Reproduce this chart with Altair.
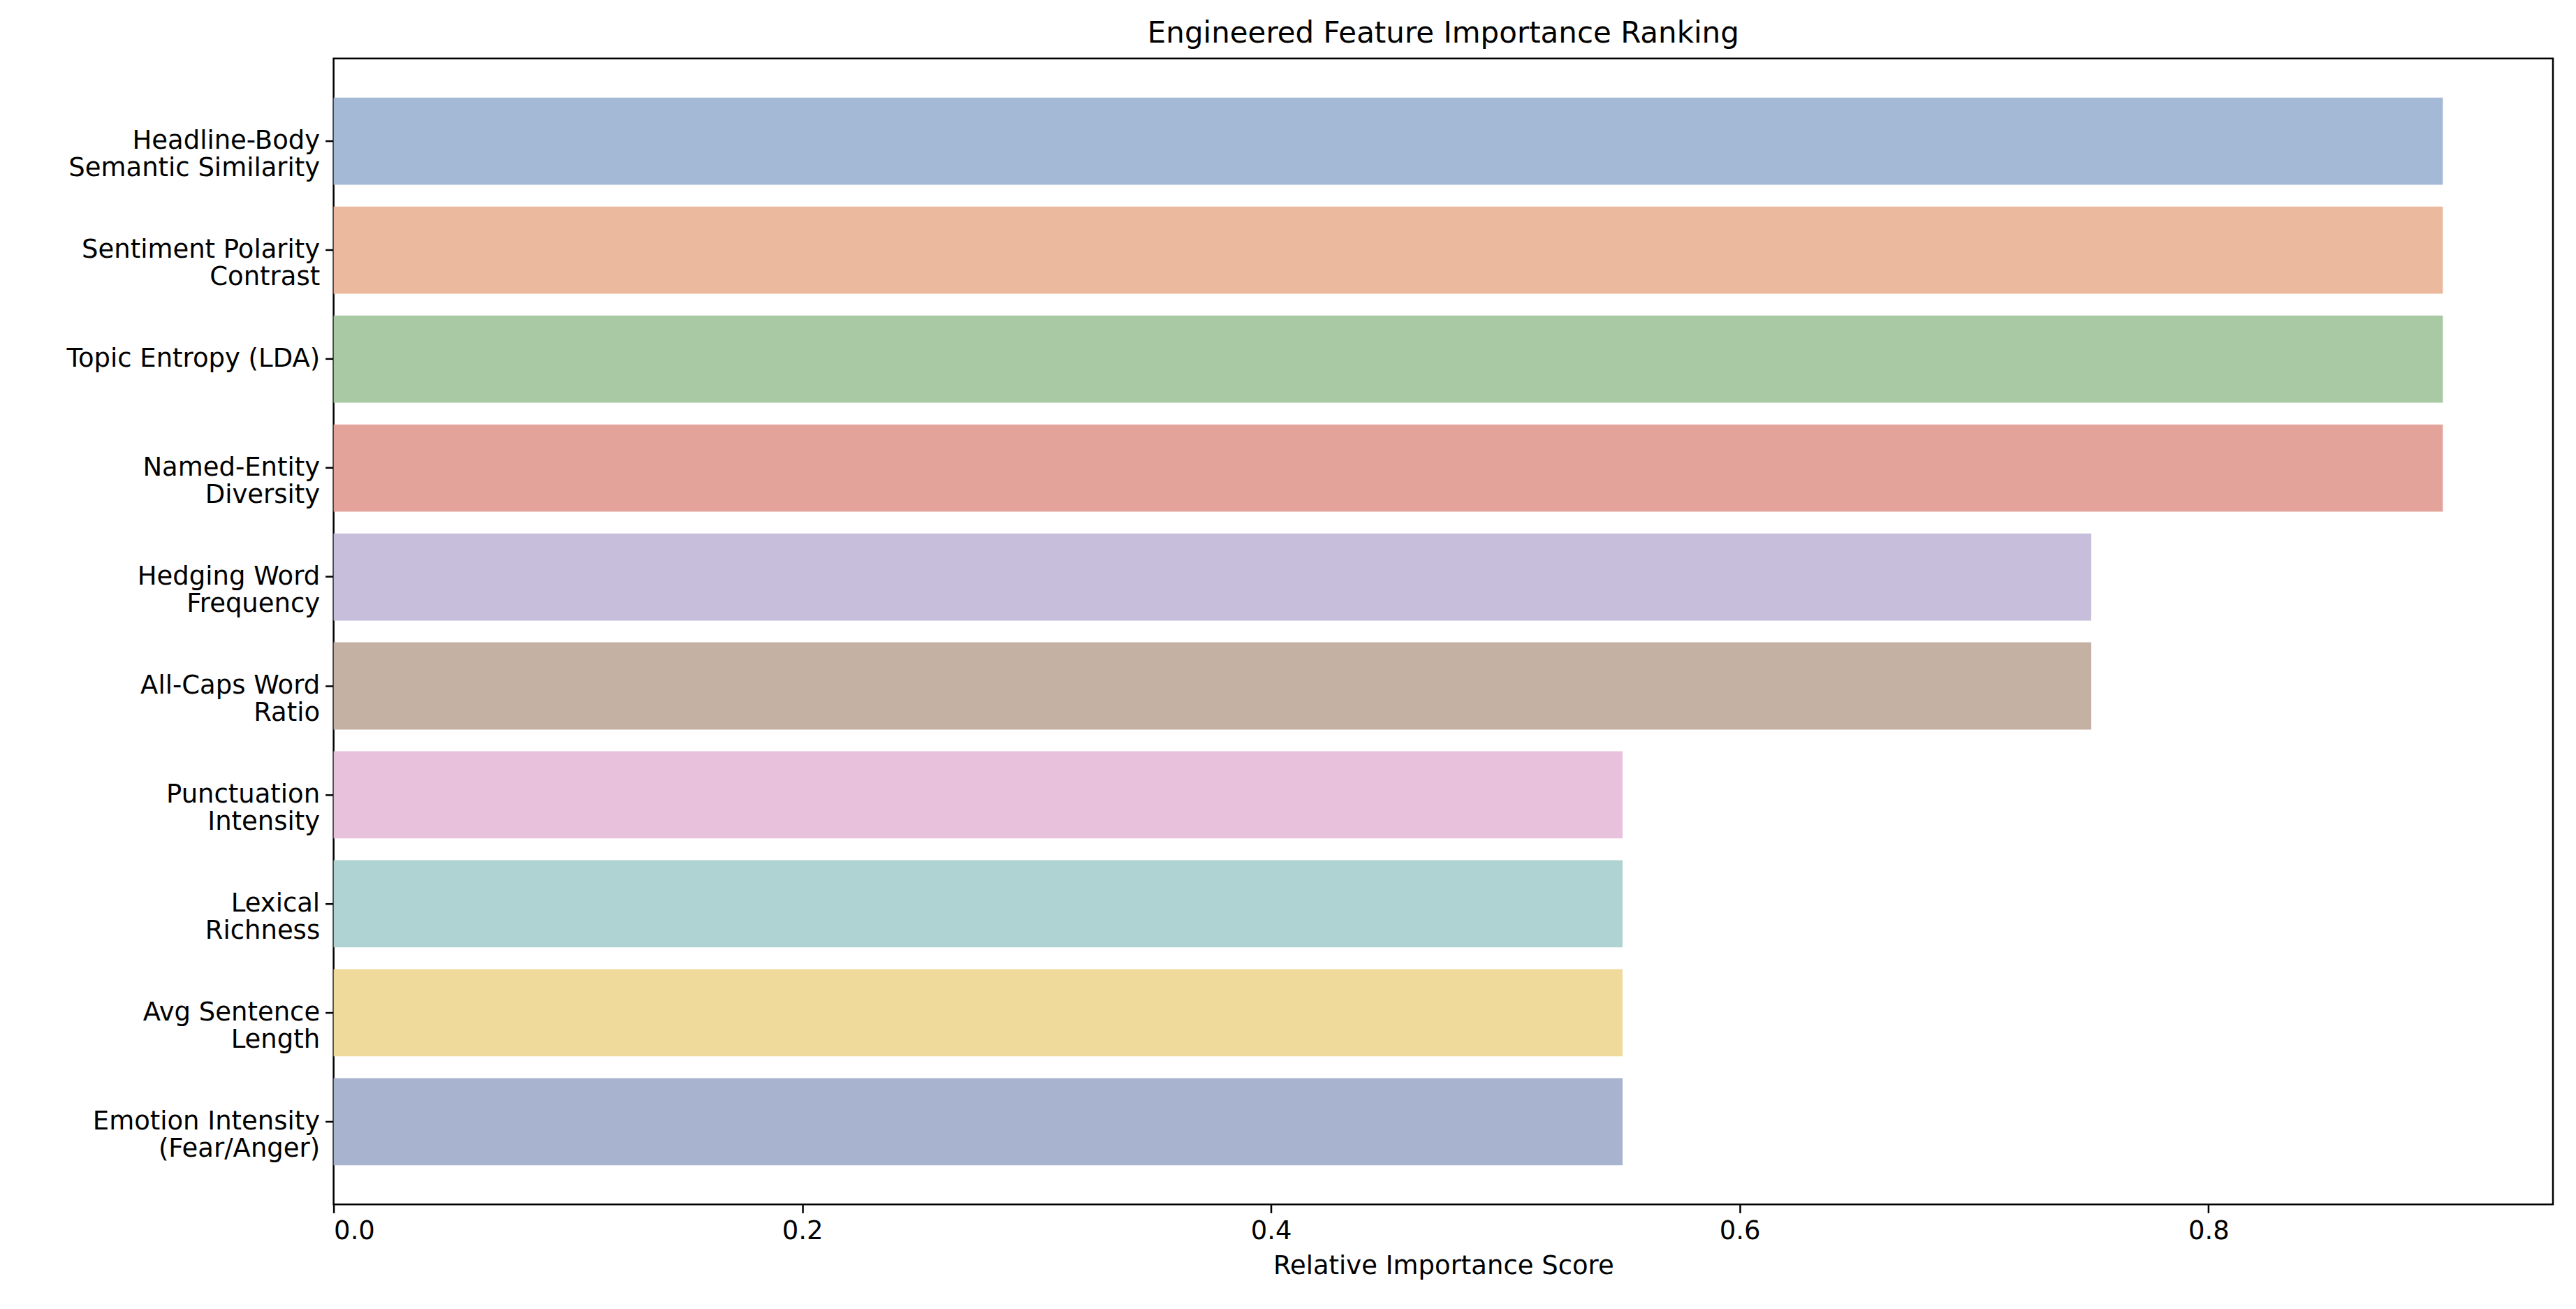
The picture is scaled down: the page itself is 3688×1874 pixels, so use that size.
import altair as alt
import pandas as pd

features = [
    "Headline-Body|Semantic Similarity",
    "Sentiment Polarity|Contrast",
    "Topic Entropy (LDA)",
    "Named-Entity|Diversity",
    "Hedging Word|Frequency",
    "All-Caps Word|Ratio",
    "Punctuation|Intensity",
    "Lexical|Richness",
    "Avg Sentence|Length",
    "Emotion Intensity|(Fear/Anger)",
]
scores = [0.9, 0.9, 0.9, 0.9, 0.75, 0.75, 0.55, 0.55, 0.55, 0.55]
colors = ["#a4b9d6", "#ebb99e", "#a9c9a4", "#e3a39a", "#c6bedb",
          "#c5b0a4", "#e8c2dd", "#aed3d2", "#efd99b", "#a8b3d0"]

df = pd.DataFrame({"feature": features, "score": scores, "color": colors})

chart = alt.Chart(df).mark_bar().encode(
    x=alt.X("score:Q", title="Relative Importance Score",
            scale=alt.Scale(domain=[0, 0.947], nice=False, zero=True),
            axis=alt.Axis(values=[0, 0.2, 0.4, 0.6, 0.8], format=".1f",
                          grid=False, tickSize=12, labelPadding=8, titlePadding=14)),
    y=alt.Y("feature:N", sort=features, title=None,
            scale=alt.Scale(paddingInner=0.2, paddingOuter=0.36),
            axis=alt.Axis(labelExpr="split(datum.label, '|')", grid=False,
                          tickSize=12, labelPadding=8, labelLimit=600)),
    color=alt.Color("color:N", scale=None),
).properties(
    width=3180, height=1642,
    title=alt.TitleParams("Engineered Feature Importance Ranking", fontSize=42,
                          fontWeight="normal", offset=14),
    autosize=alt.AutoSizeParams(type="none"),
    padding={"left": 470, "top": 75, "right": 25, "bottom": 140},
).configure_view(stroke="black", strokeWidth=2.5).configure_axis(
    labelFont="DejaVu Sans", titleFont="DejaVu Sans", labelFontSize=37,
    titleFontSize=37, titleFontWeight="normal", labelColor="black",
    titleColor="black", domain=False, tickColor="black", tickWidth=2.5,
).configure_title(font="DejaVu Sans", color="black")

chart.save("out.html", embed_options={"renderer": "svg", "actions": False})
